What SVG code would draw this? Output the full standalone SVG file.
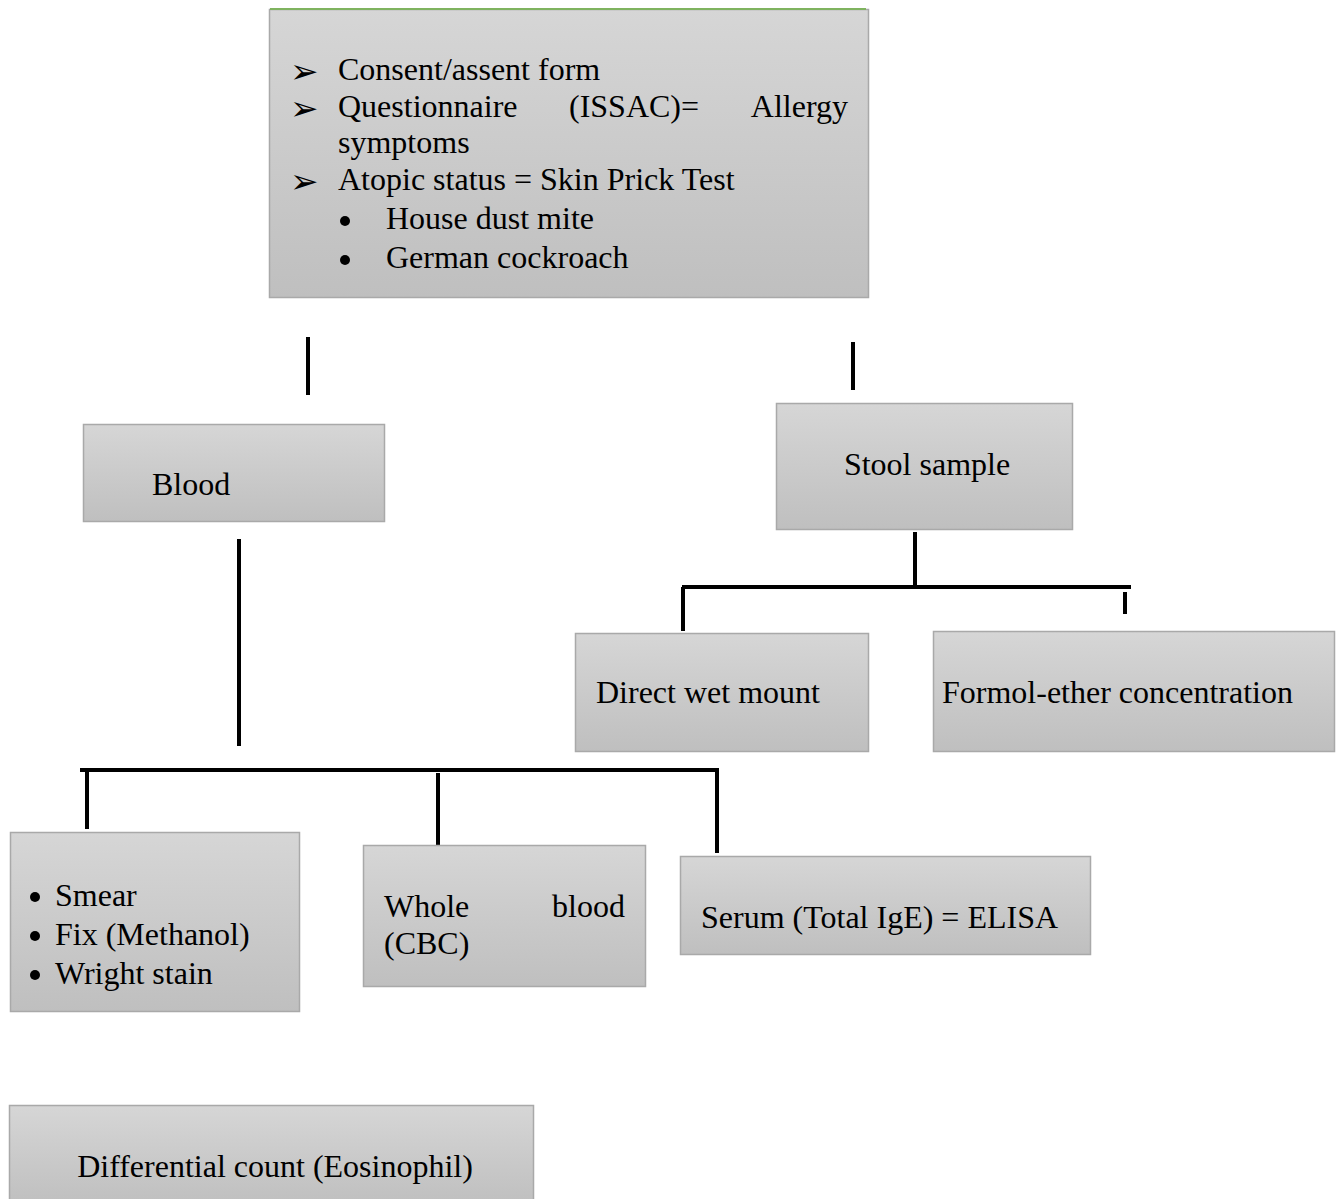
<svg xmlns="http://www.w3.org/2000/svg" width="1338" height="1199" viewBox="0 0 1338 1199">
<defs>
<linearGradient id="g" x1="0" y1="0" x2="0" y2="1">
<stop offset="0" stop-color="#d6d6d6"/>
<stop offset="1" stop-color="#bfbfbf"/>
</linearGradient>
<style>
.box{fill:url(#g);stroke:#a9a9a9;stroke-width:1.5}
.t{font-family:"Liberation Serif","Times New Roman",serif;font-size:32px;fill:#000}
.ar{font-family:"DejaVu Sans",sans-serif;font-size:34px;fill:#000}
.c{stroke:#000;stroke-width:4;fill:none}
</style>
</defs>
<rect width="1338" height="1199" fill="#fff"/>
<g id="connectors">
<line class="c" x1="308" y1="337" x2="308" y2="395"/>
<line class="c" x1="853" y1="342" x2="853" y2="390"/>
<line class="c" x1="915" y1="532" x2="915" y2="587"/>
<line class="c" x1="682" y1="587" x2="1131" y2="587"/>
<line class="c" x1="683" y1="587" x2="683" y2="631"/>
<line class="c" x1="1125" y1="592" x2="1125" y2="614"/>
<line class="c" x1="239" y1="539" x2="239" y2="746"/>
<line class="c" x1="80" y1="770" x2="719" y2="770"/>
<line class="c" x1="87" y1="770" x2="87" y2="829"/>
<line class="c" x1="438" y1="773" x2="438" y2="845"/>
<line class="c" x1="717" y1="770" x2="717" y2="853"/>
</g>
<g id="consent">
<rect class="box" x="269.5" y="9.5" width="599" height="288"/>
<line x1="270" y1="9" x2="866" y2="9" stroke="#7fb35f" stroke-width="2"/>
<text class="ar" x="290" y="83">➢</text>
<text class="ar" x="290" y="120">➢</text>
<text class="ar" x="290" y="193">➢</text>
<text class="t" x="338" y="80">Consent/assent form</text>
<text class="t" x="338" y="117">Questionnaire</text>
<text class="t" x="569" y="117">(ISSAC)=</text>
<text class="t" x="848" y="117" text-anchor="end">Allergy</text>
<text class="t" x="338" y="153">symptoms</text>
<text class="t" x="338" y="190">Atopic status = Skin Prick Test</text>
<circle cx="345" cy="221" r="5"/>
<circle cx="345" cy="260" r="5"/>
<text class="t" x="386" y="229">House dust mite</text>
<text class="t" x="386" y="268">German cockroach</text>
</g>
<g id="blood">
<rect class="box" x="83.5" y="424.5" width="301" height="97"/>
<text class="t" x="152" y="495">Blood</text>
</g>
<g id="stool">
<rect class="box" x="776.5" y="403.5" width="296" height="126"/>
<text class="t" x="927" y="475" text-anchor="middle">Stool sample</text>
</g>
<g id="wetmount">
<rect class="box" x="575.5" y="633.5" width="293" height="118"/>
<text class="t" x="596" y="703">Direct wet mount</text>
</g>
<g id="formol">
<rect class="box" x="933.5" y="631.5" width="401" height="120"/>
<text class="t" x="942" y="703">Formol-ether concentration</text>
</g>
<g id="smear">
<rect class="box" x="10.5" y="832.5" width="289" height="179"/>
<circle cx="35" cy="897" r="5"/>
<circle cx="35" cy="936" r="5"/>
<circle cx="35" cy="975" r="5"/>
<text class="t" x="55" y="906">Smear</text>
<text class="t" x="55" y="945">Fix (Methanol)</text>
<text class="t" x="55" y="984">Wright stain</text>
</g>
<g id="wholeblood">
<rect class="box" x="363.5" y="845.5" width="282" height="141"/>
<text class="t" x="384" y="917">Whole</text>
<text class="t" x="625" y="917" text-anchor="end">blood</text>
<text class="t" x="384" y="954">(CBC)</text>
</g>
<g id="serum">
<rect class="box" x="680.5" y="856.5" width="410" height="98"/>
<text class="t" x="701" y="928">Serum (Total IgE) = ELISA</text>
</g>
<g id="differential">
<rect class="box" x="9.5" y="1105.5" width="524" height="100"/>
<text class="t" x="275" y="1177" text-anchor="middle">Differential count (Eosinophil)</text>
</g>
</svg>
